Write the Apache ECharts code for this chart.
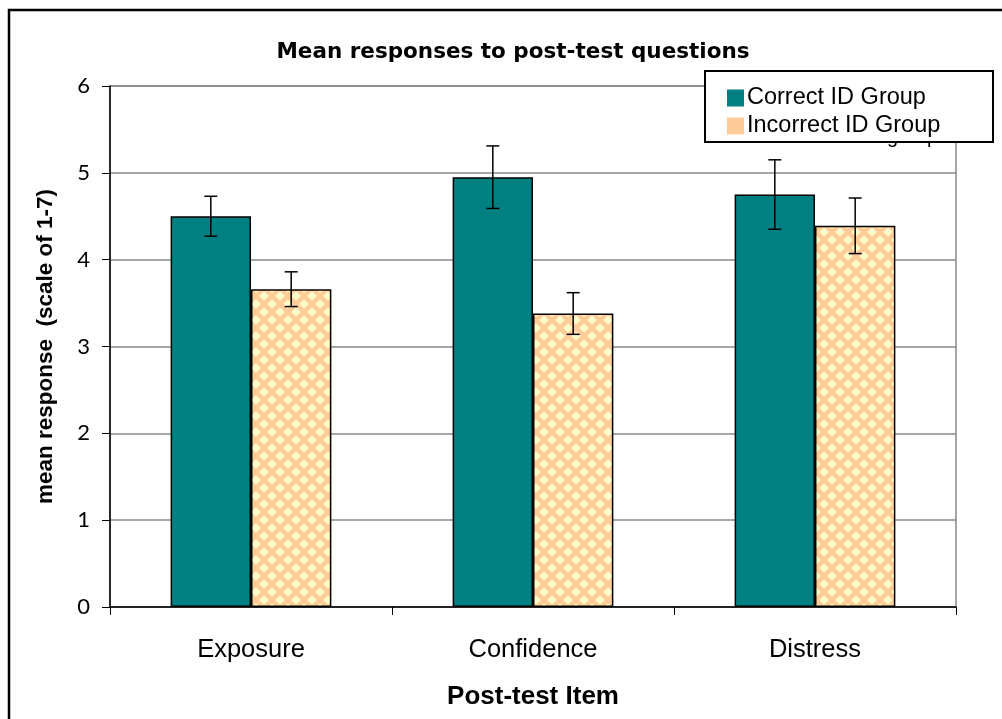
<!DOCTYPE html>
<html>
<head>
<meta charset="utf-8">
<script src="https://cdn.jsdelivr.net/npm/echarts@6/dist/echarts.min.js"></script>
<style>
html,body{margin:0;padding:0;background:#fff;}
#chart{width:1002px;height:719px;}
</style>
</head>
<body>
<div id="chart"></div>
<script>
// ---- data ----
var categories = ['Exposure', 'Confidence', 'Distress'];
var seriesNames = ['Correct ID Group', 'Incorrect ID Group'];
var correctMeans = [4.50, 4.95, 4.75];
var correctErr = [0.23, 0.36, 0.40];
var incorrectMeans = [3.66, 3.38, 4.39];
var incorrectErr = [0.20, 0.24, 0.32];
var yTicks = [0, 1, 2, 3, 4, 5, 6];

// ---- pattern for the second series ----
function makePattern() {
  var c = document.createElement('canvas');
  var s = 16;
  c.width = s; c.height = s;
  var ctx = c.getContext('2d');
  ctx.fillStyle = '#FFCC99';
  ctx.fillRect(0, 0, s, s);
  ctx.fillStyle = '#FFFFCC';
  function diamond(cx, cy, r) {
    ctx.beginPath();
    ctx.moveTo(cx, cy - r);
    ctx.lineTo(cx + r, cy);
    ctx.lineTo(cx, cy + r);
    ctx.lineTo(cx - r, cy);
    ctx.closePath();
    ctx.fill();
  }
  var r = 4.8;
  diamond(8, 8, r);
  diamond(0, 0, r); diamond(16, 0, r); diamond(0, 16, r); diamond(16, 16, r);
  return c;
}
var pattern = makePattern();

var GAP = 0.43;
function errorSeries(means, errs, side) {
  var data = means.map(function (m, i) { return [i, m, errs[i]]; });
  return {
    type: 'custom',
    z: 10,
    silent: true,
    data: data,
    encode: { x: 0, y: 1 },
    renderItem: function (params, api) {
      var idx = api.value(0);
      var m = api.value(1);
      var e = api.value(2);
      var band = api.size([1, 0])[0];
      var bw = band * (1 - GAP) / 2;
      var c = api.coord([idx, m]);
      var x = c[0] + side * bw / 2;
      var top = api.coord([idx, m + e])[1];
      var bot = api.coord([idx, m - e])[1];
      var cap = 6.5;
      var st = { stroke: '#000', lineWidth: 1.5 };
      return {
        type: 'group',
        children: [
          { type: 'line', shape: { x1: x, y1: top, x2: x, y2: bot }, style: st },
          { type: 'line', shape: { x1: x - cap, y1: top, x2: x + cap, y2: top }, style: st },
          { type: 'line', shape: { x1: x - cap, y1: bot, x2: x + cap, y2: bot }, style: st }
        ]
      };
    }
  };
}

var chart = echarts.init(document.getElementById('chart'), null, { renderer: 'canvas' });
var option = {
  backgroundColor: '#fff',
  animation: false,
  title: {
    text: 'Mean responses to post-test questions',
    left: 508, top: 36, textAlign: 'center',
    textStyle: { fontFamily: 'DejaVu Sans', fontWeight: 'bold', fontSize: 21.5, color: '#000' }
  },
  graphic: [
    { type: 'rect', z: -1, shape: { x: 9, y: 10, width: 1010, height: 730 },
      style: { fill: 'none', stroke: '#000', lineWidth: 2.5 } },
    { type: 'text', z: 40, x: 778, y: 147,
      style: { text: 'Incorrect ID group', font: '20px "Liberation Sans"', fill: '#000', verticalAlign: 'bottom' } },
    { type: 'rect', z: 50, shape: { x: 705, y: 71, width: 288, height: 71 },
      style: { fill: '#fff', stroke: '#000', lineWidth: 2 } }
  ],
  legend: {
    z: 60,
    orient: 'vertical',
    left: 727, top: 86,
    padding: 0,
    itemGap: 4,
    itemWidth: 17, itemHeight: 17,
    icon: 'rect',
    textStyle: { fontFamily: 'Liberation Sans', fontSize: 23.5, color: '#000', padding: [0, 0, 0, -2] },
    data: [
      { name: seriesNames[0], itemStyle: { color: '#008080', borderWidth: 0 } },
      { name: seriesNames[1], itemStyle: { color: '#FFCC99', borderWidth: 0 } }
    ]
  },
  grid: {
    left: 110, right: 46, top: 86, bottom: 112,
    show: true, borderColor: '#888', borderWidth: 1.5, backgroundColor: 'transparent'
  },
  xAxis: {
    type: 'category',
    data: categories,
    name: 'Post-test Item',
    nameLocation: 'middle',
    nameGap: 77,
    nameTextStyle: { fontFamily: 'Liberation Sans', fontWeight: 'bold', fontSize: 26, color: '#000' },
    axisLine: { lineStyle: { color: '#000', width: 1.5 } },
    axisTick: { show: true, length: 8, lineStyle: { color: '#000', width: 1 } },
    axisLabel: { margin: 30, fontFamily: 'Liberation Sans', fontSize: 25.5, color: '#000' }
  },
  yAxis: {
    type: 'value',
    min: yTicks[0], max: yTicks[yTicks.length - 1], interval: 1,
    name: 'mean response  (scale of 1-7)',
    nameLocation: 'middle',
    nameGap: 53,
    nameTextStyle: { fontFamily: 'Liberation Sans', fontWeight: 'bold', fontSize: 22.5, color: '#000' },
    axisLine: { show: true, lineStyle: { color: '#000', width: 1.5 } },
    axisTick: { show: true, length: 8, lineStyle: { color: '#000', width: 1 } },
    axisLabel: { margin: 20, fontFamily: 'Lato', fontSize: 22, color: '#000' },
    splitLine: { show: true, lineStyle: { color: '#888', width: 1.5 } }
  },
  series: [
    {
      name: seriesNames[0],
      type: 'bar',
      data: correctMeans,
      barGap: '0%',
      barCategoryGap: (GAP * 100) + '%',
      itemStyle: { color: '#008080', borderColor: '#000', borderWidth: 1.5 }
    },
    {
      name: seriesNames[1],
      type: 'bar',
      data: incorrectMeans,
      barGap: '0%',
      barCategoryGap: (GAP * 100) + '%',
      itemStyle: { color: { image: pattern, repeat: 'repeat' }, borderColor: '#000', borderWidth: 1.5 }
    },
    errorSeries(correctMeans, correctErr, -1),
    errorSeries(incorrectMeans, incorrectErr, 1)
  ]
};
chart.setOption(option);
</script>
</body>
</html>
